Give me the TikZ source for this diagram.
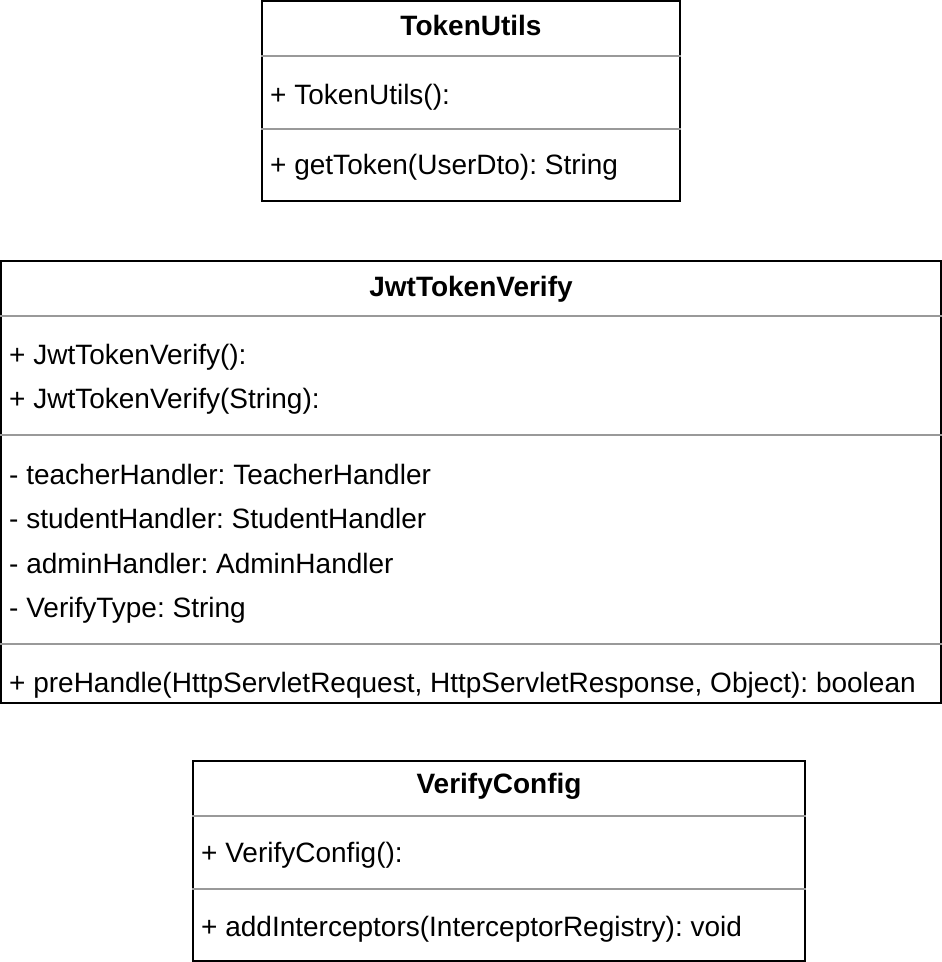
\documentclass[tikz,border=0pt]{standalone}
\usepackage{fontspec}
\setmainfont{Liberation Sans}
\definecolor{sepgray}{HTML}{999999}
\begin{document}
\frenchspacing
\begin{tikzpicture}[x=1pt,y=-1pt,
  classbox/.style={draw=black,line width=2pt,rectangle,inner sep=0pt,fill=white},
  sepline/.style={draw=sepgray,line width=2pt},
  member/.style={anchor=base west,inner sep=0pt,font=\fontsize{28}{32}\selectfont},
  title/.style={anchor=base,inner sep=0pt,font=\fontsize{28}{32}\selectfont\bfseries}]
\useasboundingbox (0,0) rectangle (942,962);
% TokenUtils
\node[classbox,minimum width=418pt,minimum height=200pt] (tu) at (471,101) {};
\draw[sepline] ([yshift=-56pt]tu.north west) -- ([yshift=-56pt]tu.north east);
\draw[sepline] ([yshift=-129pt]tu.north west) -- ([yshift=-129pt]tu.north east);
\node[title] (tut) at (471,35) {TokenUtils};
\node[member] (tu1) at (270,104) {+ TokenUtils():};
\node[member] (tu2) at (270,174) {+ getToken(UserDto): String};
% JwtTokenVerify
\node[classbox,minimum width=940pt,minimum height=442pt] (jw) at (471,482) {};
\draw[sepline] ([yshift=-56pt]jw.north west) -- ([yshift=-56pt]jw.north east);
\draw[sepline] ([yshift=-175pt]jw.north west) -- ([yshift=-175pt]jw.north east);
\draw[sepline] ([yshift=-384pt]jw.north west) -- ([yshift=-384pt]jw.north east);
\node[title] (jwt) at (471,296) {JwtTokenVerify};
\node[member] (jw1) at (9,364) {+ JwtTokenVerify():};
\node[member] (jw2) at (9,408) {+ JwtTokenVerify(String):};
\node[member] (jw3) at (9,484) {- teacherHandler: TeacherHandler};
\node[member] (jw4) at (9,528) {- studentHandler: StudentHandler};
\node[member] (jw5) at (9,573) {- adminHandler: AdminHandler};
\node[member] (jw6) at (9,617) {- VerifyType: String};
\node[member] (jw7) at (9,692) {+ preHandle(HttpServletRequest, HttpServletResponse, Object): boolean};
% VerifyConfig
\node[classbox,minimum width=612pt,minimum height=200pt] (vc) at (499,861) {};
\draw[sepline] ([yshift=-56pt]vc.north west) -- ([yshift=-56pt]vc.north east);
\draw[sepline] ([yshift=-129pt]vc.north west) -- ([yshift=-129pt]vc.north east);
\node[title] (vct) at (499,793) {VerifyConfig};
\node[member] (vc1) at (201,862) {+ VerifyConfig():};
\node[member] (vc2) at (201,936) {+ addInterceptors(InterceptorRegistry): void};
\end{tikzpicture}
\end{document}
